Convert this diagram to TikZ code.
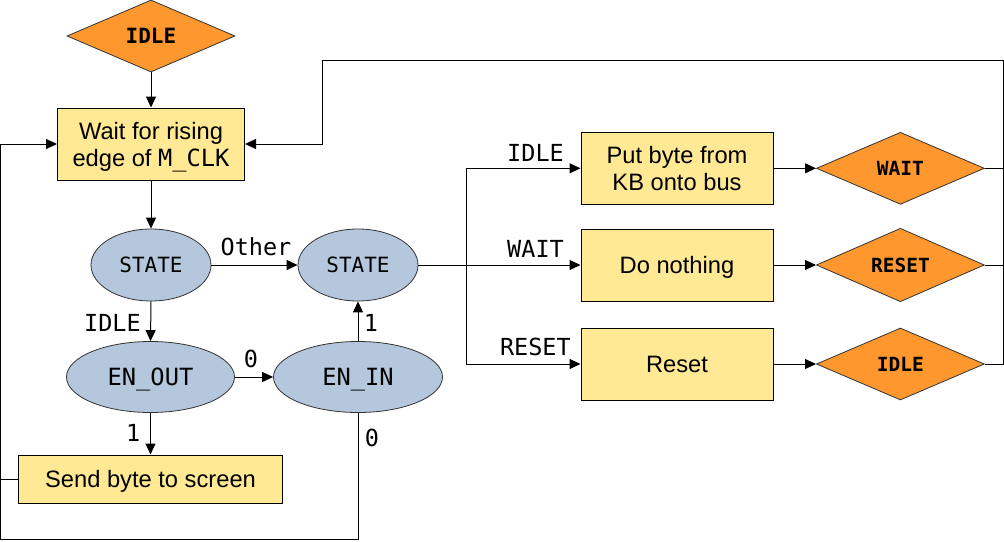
\documentclass[tikz,border=0pt]{standalone}
\usepackage{fontspec}
\setmainfont{Liberation Sans}
\setmonofont{DejaVu Sans Mono}
\usetikzlibrary{shapes.geometric,arrows.meta}
\definecolor{boxfill}{HTML}{FFE994}
\definecolor{ellfill}{HTML}{B4C7DC}
\definecolor{diafill}{HTML}{FF972F}
\begin{document}
\begin{tikzpicture}[x=1pt,y=-1pt,
 box/.style={draw=black,fill=boxfill,line width=1pt,minimum width=192pt,minimum height=72pt,inner sep=0pt,align=center,font=\fontsize{23.7}{27}\selectfont},
 onebox/.style={box,text height=17pt,text depth=0pt},
 ell/.style={ellipse,draw=black!80,fill=ellfill,line width=0.8pt,inner sep=0pt,minimum width=169pt,minimum height=71pt,text depth=0pt,font=\ttfamily\fontsize{23.7}{27}\selectfont},
 dia/.style={diamond,draw=black!80,fill=diafill,line width=0.8pt,inner sep=0pt,minimum width=168pt,minimum height=72pt,font=\ttfamily\bfseries\fontsize{19.5}{22}\selectfont},
 lbl/.style={inner sep=0pt,font=\ttfamily\fontsize{23.5}{27}\selectfont},
 arr/.style={-{Triangle[length=11pt,width=10pt]},line width=1pt},
 ln/.style={line width=1pt}]
\useasboundingbox (0,0) rectangle (1004,541);

% nodes
\node[dia,font=\ttfamily\bfseries\fontsize{21}{24}\selectfont] (top) at (151,36) {IDLE};
\node[box,minimum width=187pt] (wait) at (151,144) {Wait for rising\\\raisebox{0pt}[\height][0pt]{edge of {\ttfamily M\_CLK}}};
\node[ell,minimum width=120pt,minimum height=72pt,font=\ttfamily\fontsize{21}{24}\selectfont] (s1) at (151,265) {STATE};
\node[ell,minimum width=120pt,minimum height=72pt,font=\ttfamily\fontsize{21}{24}\selectfont] (s2) at (358,265) {STATE};
\node[ell,minimum width=168pt] (enout) at (150.5,377) {EN\_OUT};
\node[ell] (enin) at (358,377) {EN\_IN};
\node[onebox,minimum width=264pt,minimum height=48pt] (send) at (150.5,479) {Send byte to screen};
\node[box] (put) at (677,168.3) {Put byte from\\KB onto bus};
\node[onebox] (nothing) at (677,265) {Do nothing};
\node[onebox] (reset) at (677,364) {Reset};
\node[dia] (dwait) at (900.4,168.3) {WAIT};
\node[dia] (dreset) at (900.4,265) {RESET};
\node[dia] (didle) at (900.4,364) {IDLE};

% helper coordinates
\coordinate (br) at (466.6,265);
\coordinate (rt) at (1003,60.3);
\coordinate (rl) at (322,60.3);
\coordinate (bl) at (0.7,539.7);

% connectors
\draw[arr] (top.south) -- (wait.north);
\draw[arr] (wait.south) -- (s1.north);
\draw[arr] (s1.east) -- (s2.west);
\draw[arr] (s1.south) -- (enout.north);
\draw[arr] (enout.east) -- (enin.west);
\draw[arr] (enin.north) -- (s2.south);
\draw[arr] (enout.south) -- (send.north);
\draw[ln] (s2.east) -- (br);
\draw[arr] (br) -- (nothing.west);
\draw[arr] (br) |- (put.west);
\draw[arr] (br) |- (reset.west);
\draw[arr] (put.east) -- (dwait.west);
\draw[arr] (nothing.east) -- (dreset.west);
\draw[arr] (reset.east) -- (didle.west);
\draw[arr] (didle.east) -| (rt) -- (rl) |- (wait.east);
\draw[ln] (dwait.east) -- (dwait.east -| rt);
\draw[ln] (dreset.east) -- (dreset.east -| rt);
\draw[arr] (enin.south) |- (bl) |- (wait.west);
\draw[ln] (send.west) -- (send.west -| bl);

% labels
\node[lbl] (lother) at (256,246.7) {Other};
\node[lbl] (lidle) at (112.5,322.5) {IDLE};
\node[lbl] (l0a) at (251,358.7) {0};
\node[lbl] (l1a) at (371,323) {1};
\node[lbl] (l1b) at (133.3,432.5) {1};
\node[lbl] (l0b) at (372,438) {0};
\node[lbl] (lbidle) at (535.5,152.7) {IDLE};
\node[lbl] (lbwait) at (535.5,249) {WAIT};
\node[lbl] (lbreset) at (535.4,347) {RESET};
\end{tikzpicture}
\end{document}
